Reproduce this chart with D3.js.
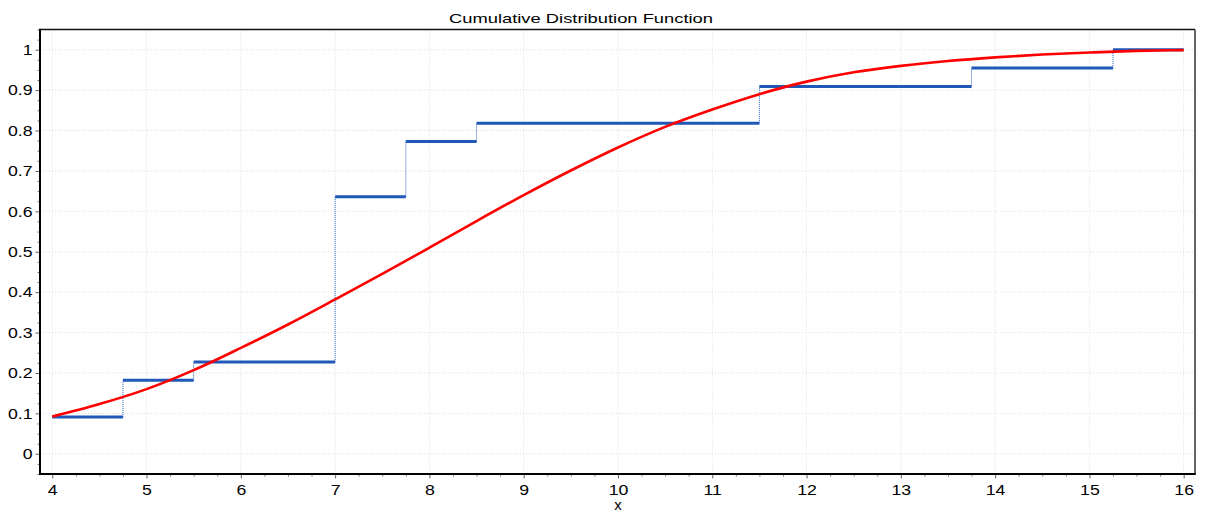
<!DOCTYPE html>
<html>
<head>
<meta charset="utf-8">
<script src="https://cdn.jsdelivr.net/npm/d3@7"></script>
<style>
  html, body { margin: 0; padding: 0; background: #fff; }
  svg { display: block; }
  text { font-family: "Liberation Sans", Arial, sans-serif; fill: #000; }
</style>
</head>
<body>
<svg id="chart" width="1207" height="516"></svg>
<script>
// ---- data ----
const title = "Cumulative Distribution Function";
const xLabel = "x";
const xTicks = [4, 5, 6, 7, 8, 9, 10, 11, 12, 13, 14, 15, 16];
const yTicks = [0, 0.1, 0.2, 0.3, 0.4, 0.5, 0.6, 0.7, 0.8, 0.9, 1];
const yTickLabels = ["0", "0.1", "0.2", "0.3", "0.4", "0.5", "0.6", "0.7", "0.8", "0.9", "1"];
// empirical CDF steps
const stepX = [4, 4.75, 5.5, 7, 7.75, 8.5, 11.5, 13.75, 15.25];
const stepY = [0.0909, 0.1818, 0.2273, 0.6364, 0.7727, 0.8182, 0.9091, 0.9545, 1.0];
const stepEndX = 16;
// fitted CDF
const fitX = [4, 4.5, 5, 5.5, 6, 6.5, 7, 7.5, 8, 8.5, 9, 9.5, 10, 10.5, 11, 11.5, 12, 12.5, 13, 13.5, 14, 14.5, 15, 15.5, 16];
const fitY = [0.092, 0.123, 0.160, 0.207, 0.262, 0.320, 0.382, 0.445, 0.510, 0.576, 0.640, 0.701, 0.758, 0.809, 0.852, 0.890, 0.921, 0.944, 0.960, 0.972, 0.981, 0.988, 0.993, 0.997, 0.999];

// ---- layout ----
const L = 40, R = 1195, T = 29.5, B = 474;
const svg = d3.select("#chart");
const x = d3.scaleLinear().domain([3.87, 16.12]).range([L, R]);
const y = d3.scaleLinear().domain([-0.05, 1.05]).range([B, T]);
const SX = 1.18; // horizontal stretch of the glyphs in the reference

// grid
const grid = svg.append("g");
grid.selectAll("line.vx").data(xTicks).join("line")
  .attr("x1", d => x(d)).attr("x2", d => x(d)).attr("y1", T).attr("y2", B)
  .attr("stroke", "#dcdcdc").attr("stroke-width", 1).attr("stroke-dasharray", "1,2");
grid.selectAll("line.hy").data(yTicks).join("line")
  .attr("x1", L).attr("x2", R).attr("y1", d => y(d)).attr("y2", d => y(d))
  .attr("stroke", "#dcdcdc").attr("stroke-width", 1).attr("stroke-dasharray", "1,2");

// minor ticks
const xMinor = d3.range(4, 16.001, 0.25).filter(v => Math.abs(v - Math.round(v)) > 1e-6);
const yMinor = d3.range(-0.05, 1.0501, 0.025).filter(v => Math.abs(v * 10 - Math.round(v * 10)) > 1e-6);
svg.append("g").attr("transform", `translate(0,${B})`)
  .call(d3.axisBottom(x).tickValues(xMinor).tickSize(2.5).tickFormat(""))
  .call(g => { g.select(".domain").remove(); g.selectAll("line").attr("stroke", "#777"); });
svg.append("g").attr("transform", `translate(${L},0)`)
  .call(d3.axisLeft(y).tickValues(yMinor).tickSize(2.5).tickFormat(""))
  .call(g => { g.select(".domain").remove(); g.selectAll("line").attr("stroke", "#777"); });

// major axes
svg.append("g").attr("transform", `translate(0,${B})`)
  .call(d3.axisBottom(x).tickValues(xTicks).tickSize(4.5).tickPadding(6).tickFormat(d3.format("d")))
  .call(g => {
    g.select(".domain").remove();
    g.selectAll("line").attr("stroke", "#666");
    g.selectAll("text").attr("font-size", 15).attr("font-family", "Liberation Sans, Arial, sans-serif")
      .attr("fill", "#000").attr("dy", "0.71em").attr("transform", `scale(${SX},1)`);
  });
svg.append("g").attr("transform", `translate(${L},0)`)
  .call(d3.axisLeft(y).tickValues(yTicks).tickSize(4.5).tickPadding(3).tickFormat((d, i) => yTickLabels[i]))
  .call(g => {
    g.select(".domain").remove();
    g.selectAll("line").attr("stroke", "#666");
    g.selectAll("text").attr("font-size", 15).attr("font-family", "Liberation Sans, Arial, sans-serif")
      .attr("fill", "#000").attr("x", -7.5 / SX).attr("transform", `scale(${SX},1)`);
  });

// frame
svg.append("line").attr("x1", L).attr("x2", R).attr("y1", T).attr("y2", T).attr("stroke", "#111").attr("stroke-width", 1.5);
svg.append("line").attr("x1", R).attr("x2", R).attr("y1", T).attr("y2", B).attr("stroke", "#333").attr("stroke-width", 1.5);
svg.append("line").attr("x1", L).attr("x2", L).attr("y1", T - 0.75).attr("y2", B + 1).attr("stroke", "#000").attr("stroke-width", 2);
svg.append("line").attr("x1", L - 1).attr("x2", R + 0.75).attr("y1", B).attr("y2", B).attr("stroke", "#000").attr("stroke-width", 2);

// step: vertical dotted risers
const risers = stepX.slice(1).map((sx, i) => ({ x: sx, y0: stepY[i], y1: stepY[i + 1] }));
svg.append("g").selectAll("line").data(risers).join("line")
  .attr("x1", d => x(d.x)).attr("x2", d => x(d.x))
  .attr("y1", d => y(d.y0)).attr("y2", d => y(d.y1))
  .attr("stroke", "#2a63c4").attr("stroke-width", 1).attr("stroke-dasharray", "1,1");
// step: horizontal segments
const segs = stepX.map((sx, i) => ({ x0: sx, x1: i < stepX.length - 1 ? stepX[i + 1] : stepEndX, v: stepY[i] }));
svg.append("g").selectAll("line").data(segs).join("line")
  .attr("x1", d => x(d.x0)).attr("x2", d => x(d.x1))
  .attr("y1", d => y(d.v)).attr("y2", d => y(d.v))
  .attr("stroke", "#1f58b8").attr("stroke-width", 3);

// fitted curve
const fit = fitX.map((v, i) => [v, fitY[i]]);
svg.append("path").datum(fit)
  .attr("d", d3.line().x(d => x(d[0])).y(d => y(d[1])).curve(d3.curveMonotoneX))
  .attr("fill", "none").attr("stroke", "#ff0000").attr("stroke-width", 2.6);

// title and x label
svg.append("text").attr("x", 581).attr("y", 22.5).attr("text-anchor", "middle")
  .attr("font-size", 13.5).attr("textLength", 264).attr("lengthAdjust", "spacingAndGlyphs").text(title);
svg.append("text").attr("x", 618).attr("y", 509.5).attr("text-anchor", "middle")
  .attr("font-size", 15).text(xLabel);
</script>
</body>
</html>
